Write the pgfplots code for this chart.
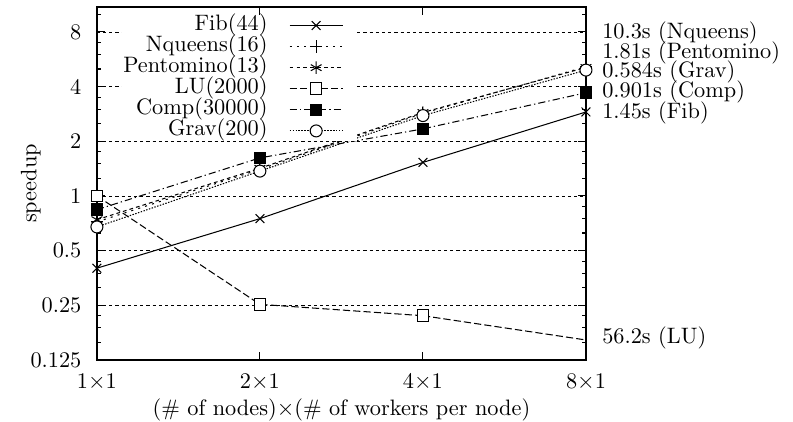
\documentclass[border=0pt]{standalone}
\usepackage{pgfplots}
\pgfplotsset{compat=1.18}
\newcommand\fs{\fontsize{10.8}{13}\selectfont}
\begin{document}
\begin{tikzpicture}
\begin{axis}[
  scale only axis,
  width=236.7pt, height=170.9pt,
  xmode=log, log basis x=2,
  ymode=log, log basis y=2,
  xmin=1, xmax=8, ymin=0.125, ymax=11,
  xtick={1,2,4,8},
  xticklabels={1$\times$1,2$\times$1,4$\times$1,8$\times$1},
  xminorticks=false, yminorticks=false,
  ytick={0.125,0.25,0.5,1,2,4,8},
  yticklabels={0.125,0.25,0.5,1,2,4,8},
  extra y ticks={0.15625,0.1875,0.21875,0.3125,0.375,0.4375,0.625,0.75,0.875,1.25,1.5,1.75,2.5,3,3.5,5,6,7,10},
  extra y tick labels={},
  extra y tick style={major tick length=2pt, ymajorgrids=false},
  ymajorgrids,
  major grid style={black, line width=0.4pt, dash pattern=on 1.5pt off 1.5pt},
  tick align=inside,
  major tick length=4pt,
  axis line style={line width=0.9pt},
  every tick/.style={black, line width=0.5pt},
  tick label style={font=\fs},
  label style={font=\fs},
  xticklabel style={yshift=-3.2pt},
  yticklabel style={xshift=-4pt},
  xlabel={(\# of nodes)$\times$(\# of workers per node)},
  ylabel={speedup},
  every axis x label/.style={at={(axis description cs:0.5,0)},anchor=center,yshift=-24.2pt,font=\fs},
  every axis y label/.style={at={(axis description cs:-0.135,0.5)},anchor=center,rotate=90,font=\fs},
  clip=false,
  legend plot pos=right,
  legend cell align=right,
  legend style={at={(0.532,0.978)},anchor=north east,draw=none,fill=white,inner sep=0pt,row sep=0pt,font=\fs,
    column sep=0pt,
    /tikz/every odd column/.style={column sep=10pt},
    /tikz/every even column/.style={column sep=0pt},
    nodes={inner sep=0.5pt, text height=6.8pt, text depth=2.4pt}},
  legend image code/.code={
    \draw[#1,mark=none] (0cm,0cm) -- (0.9cm,0cm);
    \draw[#1] plot coordinates {(0.45cm,0cm)};
    \path (1.13cm,0cm);
  },
]
% LU tail (no mark at 8x1)
\addplot[forget plot, black, line width=0.5pt, dash pattern=on 3.5pt off 1.5pt] coordinates {(4,0.219) (8,0.161)};

\addplot[black, line width=0.5pt, mark=x, mark size=3pt, mark options={solid}] coordinates {(1,0.40) (2,0.75) (4,1.53) (8,2.90)};
\addlegendentry{Fib(44)}
\addplot[black, line width=0.5pt, dash pattern=on 1pt off 2.5pt, mark=+, mark size=3pt, mark options={solid}] coordinates {(1,0.72) (2,1.40) (4,2.85) (8,5.15)};
\addlegendentry{Nqueens(16)}
\addplot[black, line width=0.5pt, dash pattern=on 1.8pt off 1.5pt, mark=asterisk, mark size=3pt, mark options={solid}] coordinates {(1,0.74) (2,1.42) (4,2.88) (8,5.10)};
\addlegendentry{Pentomino(13)}
\addplot[black, line width=0.5pt, dash pattern=on 3.5pt off 1.5pt, mark=square*, mark size=2.8pt, mark options={solid, fill=white}] coordinates {(1,1.0) (2,0.253) (4,0.219)};
\addlegendentry{LU(2000)}
\addplot[black, line width=0.5pt, dash pattern=on 3.5pt off 1.5pt on 0.6pt off 1.5pt, mark=square*, mark size=2.8pt, mark options={solid, fill=black}] coordinates {(1,0.84) (2,1.62) (4,2.34) (8,3.70)};
\addlegendentry{Comp(30000)}
\addplot[black, line width=0.5pt, dash pattern=on 0.7pt off 0.7pt, mark=*, mark size=2.9pt, mark options={solid, fill=white}] coordinates {(1,0.675) (2,1.37) (4,2.77) (8,4.93)};
\addlegendentry{Grav(200)}

\node[font=\fs, anchor=west, inner sep=0.8pt, xshift=6.9pt] at (axis cs:8,7.92) {10.3s (Nqueens)};
\node[font=\fs, anchor=west, inner sep=0.8pt, xshift=6.9pt] at (axis cs:8,6.16) {1.81s (Pentomino)};
\node[font=\fs, anchor=west, inner sep=0.8pt, xshift=6.9pt] at (axis cs:8,4.82) {0.584s (Grav)};
\node[font=\fs, anchor=west, inner sep=0.8pt, xshift=6.9pt] at (axis cs:8,3.74) {0.901s (Comp)};
\node[font=\fs, anchor=west, inner sep=0.8pt, xshift=6.9pt] at (axis cs:8,2.87) {1.45s (Fib)};
\node[font=\fs, anchor=west, inner sep=0.8pt, xshift=6.9pt] at (axis cs:8,0.165) {56.2s (LU)};
\end{axis}
\pgfresetboundingbox
\path (-46.9pt,-30.0pt) rectangle ++(383.8pt,204.2pt);
\end{tikzpicture}
\end{document}
